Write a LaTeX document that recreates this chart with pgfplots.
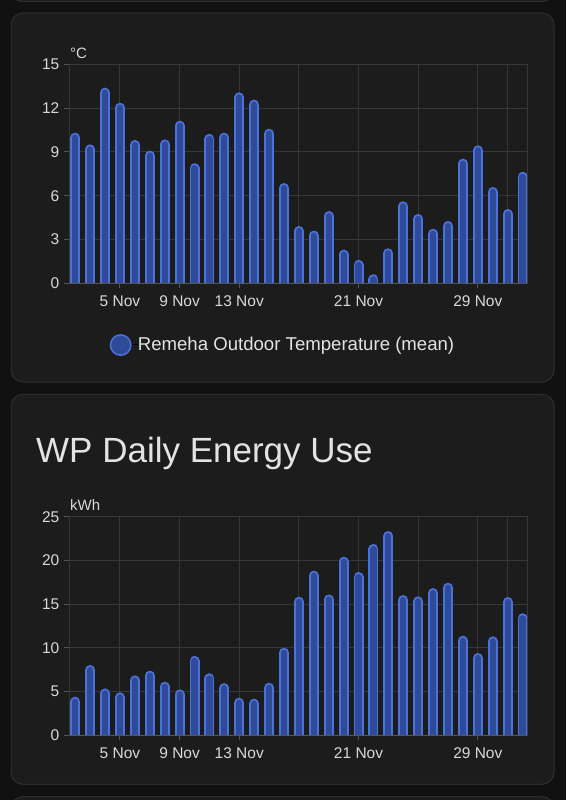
\documentclass[border=0pt]{standalone}
\usepackage{fontspec}
\setmainfont{Liberation Sans}
\usepackage{pgfplots}
\pgfplotsset{compat=1.18}
\usepackage{pgfplotstable}
\definecolor{pagebg}{HTML}{111111}
\definecolor{cardbg}{HTML}{1C1C1C}
\definecolor{cardbd}{HTML}{2E2E2E}
\definecolor{gridc}{HTML}{363636}
\definecolor{axisc}{HTML}{555555}
\definecolor{barb}{HTML}{4A72DA}
\definecolor{barf}{HTML}{2F4A98}
\definecolor{tickc}{HTML}{D8D8D8}
\definecolor{titlec}{HTML}{E3E3E3}

\pgfplotstableread{
day temp
2 10.32
3 9.52
4 13.4
5 12.37
6 9.82
7 9.09
8 9.86
9 11.14
10 8.22
11 10.23
12 10.32
13 13.08
14 12.58
15 10.59
16 6.87
17 3.93
18 3.61
19 4.95
20 2.31
21 1.6
22 0.62
23 2.4
24 5.62
25 4.75
26 3.74
27 4.27
28 8.54
29 9.45
30 6.6
31 5.09
32 7.63
}\temptable

\pgfplotstableread{
day kwh
2 4.39
3 8.02
4 5.34
5 4.89
6 6.83
7 7.37
8 6.11
9 5.23
10 9.05
11 7.06
12 5.95
13 4.27
14 4.16
15 5.99
16 10.0
17 15.84
18 18.82
19 16.1
20 20.42
21 18.66
22 21.87
23 23.36
24 16.03
25 15.88
26 16.83
27 17.44
28 11.37
29 9.39
30 11.3
31 15.8
32 13.93
}\energytable

\pgfplotsset{
  hachart/.style={
    scale only axis, width=457.7pt,
    xmin=1.60, xmax=32.30, ymin=0,
    axis line style={draw=gridc, line width=1pt},
    grid=major, major grid style={draw=gridc, line width=1pt},
    tick align=outside, major tick length=5pt,
    tick style={draw=axisc, line width=1pt},
    xtick pos=bottom, ytick pos=left,
    xtick={5,9,13,21,29},
    xticklabels={5 Nov,9 Nov,13 Nov,21 Nov,29 Nov},
    extra x ticks={17,25,31},
    extra x tick labels={},
    extra x tick style={grid=major, major tick length=0pt},
    ticklabel style={font=\fontsize{15.5}{18}\selectfont, text=tickc},
    xticklabel style={yshift=-4pt},
    yticklabel style={xshift=-1.5pt},
    /pgf/number format/assume math mode=true,
  },
  barborder/.style={ycomb, no markers, draw=barb, line width=10pt, line cap=round, yshift=-5pt},
  barfill/.style={ycomb, no markers, draw=barf, line width=6.2pt, line cap=round, yshift=-5pt},
}

\begin{document}
\begin{tikzpicture}
\useasboundingbox (0,0) rectangle (566pt,-800pt);
\clip (0,0) rectangle (566pt,-800pt);
\fill[pagebg] (0,0) rectangle (566pt,-800pt);
\draw[cardbd, fill=cardbg, rounded corners=12pt, line width=1pt] (11pt,40pt) rectangle (554pt,-1.5pt);
\draw[cardbd, fill=cardbg, rounded corners=12pt, line width=1pt] (11pt,-13pt) rectangle (554pt,-382pt);
\draw[cardbd, fill=cardbg, rounded corners=12pt, line width=1pt] (11pt,-394.3pt) rectangle (554pt,-784.3pt);
\draw[cardbd, fill=cardbg, rounded corners=12pt, line width=1pt] (11pt,-796.7pt) rectangle (554pt,-900pt);

% top chart
\begin{axis}[hachart,
  at={(69.3pt,-283.3pt)}, anchor=south west,
  height=219pt, ymax=15, ytick={0,3,6,9,12,15},
  legend style={draw=none, fill=none, at={(rel axis cs:0.0883,-0.282)}, anchor=west,
    inner sep=0pt, outer sep=0pt, font=\fontsize{18.6}{22}\selectfont, text=titlec,
    nodes={inner sep=0pt}},
  legend cell align=left,
]
\addlegendimage{legend image code/.code={\path (0pt,0pt) -- (27.5pt,0pt);\draw[barb, fill=barf, line width=1.5pt] (10.5pt,0.3em-4pt) circle (10.2pt);}}
\addlegendentry{Remeha Outdoor Temperature (mean)}
\addplot[barborder] table[x=day, y=temp] {\temptable};
\addplot[barfill] table[x=day, y=temp] {\temptable};
\draw[axisc, line width=1pt] (rel axis cs:0,0) -- (rel axis cs:1,0);
\end{axis}
\node[anchor=base west, inner sep=0pt, text=tickc, font=\fontsize{15}{18}\selectfont] at (70pt,-58.3pt) {°C};

% bottom chart
\node[anchor=base west, inner sep=0pt, text=titlec, font=\fontsize{35}{40}\selectfont] at (36pt,-462.7pt) {WP Daily Energy Use};
\begin{axis}[hachart,
  at={(69.3pt,-735pt)}, anchor=south west,
  height=218.3pt, ymax=25, ytick={0,5,10,15,20,25},
]
\addplot[barborder] table[x=day, y=kwh] {\energytable};
\addplot[barfill] table[x=day, y=kwh] {\energytable};
\draw[axisc, line width=1pt] (rel axis cs:0,0) -- (rel axis cs:1,0);
\end{axis}
\node[anchor=base west, inner sep=0pt, text=tickc, font=\fontsize{15}{18}\selectfont] at (70pt,-510pt) {kWh};
\end{tikzpicture}
\end{document}
